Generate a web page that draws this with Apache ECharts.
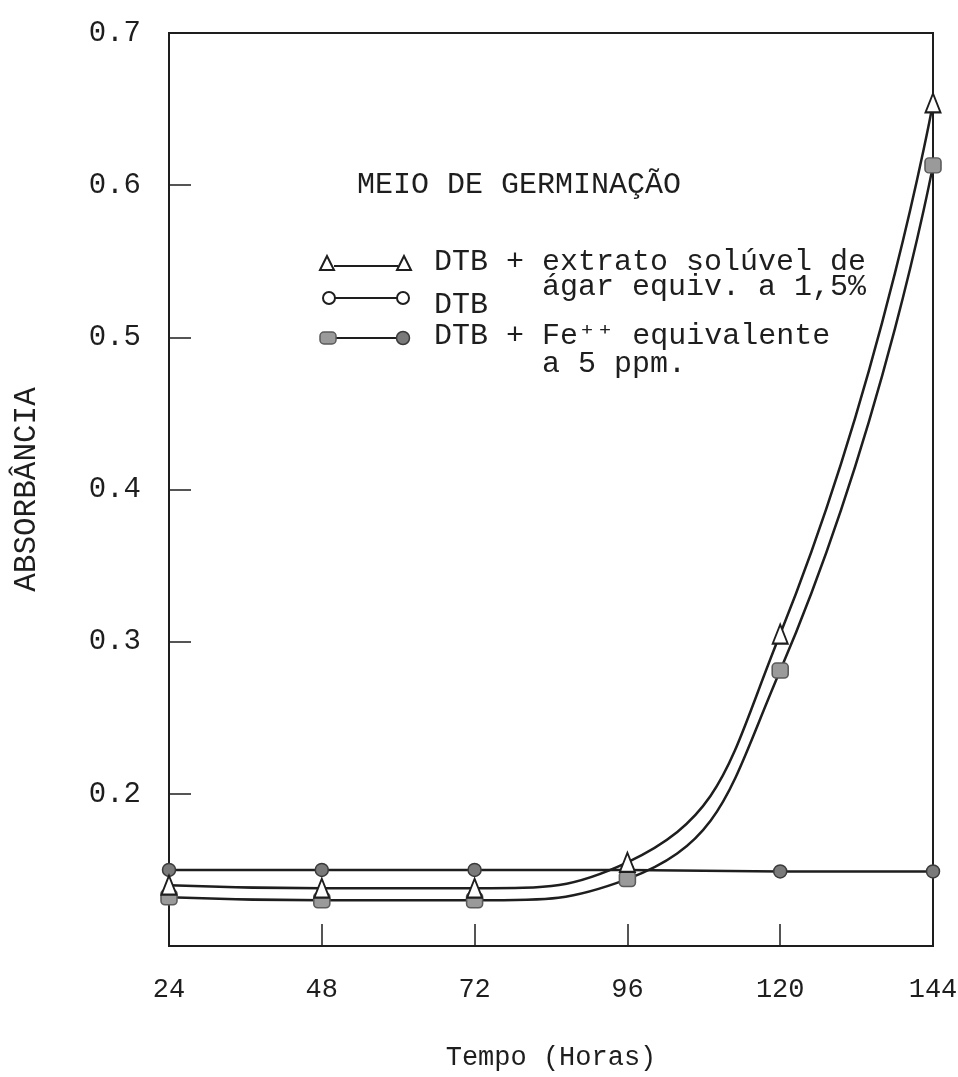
<!DOCTYPE html>
<html>
<head>
<meta charset="utf-8">
<script src="https://cdn.jsdelivr.net/npm/echarts@6/dist/echarts.min.js"></script>
<style>html,body{margin:0;padding:0;background:#fff}#c{width:958px;height:1077px}</style>
</head>
<body>
<div id="c"></div>
<script>
const hours = [24, 48, 72, 96, 120, 144];
const extratoVals = [0.140, 0.138, 0.138, 0.155, 0.305, 0.654];
const dtbVals = [0.150, 0.150, 0.150, 0.150, 0.149, 0.149];
const feVals = [0.132, 0.130, 0.130, 0.144, 0.281, 0.613];
const legendTitle = 'MEIO DE GERMINAÇÃO';
const legendLines = [
  'DTB + extrato solúvel de',
  '      ágar equiv. a 1,5%',
  'DTB',
  'DTB + Fe⁺⁺ equivalente',
  '      a 5 ppm.'
];
const xName = 'Tempo (Horas)';
const yName = 'ABSORBÂNCIA';

const FONT = '"Liberation Mono", "DejaVu Sans Mono", monospace';
const INK = '#1e1e1e';
const pair = vals => hours.map((h, i) => [h, vals[i]]);

const chart = echarts.init(document.getElementById('c'), null, {renderer: 'canvas'});
const txt = (x, y, s, size) => ({type: 'text', left: x, top: y, style: {text: s, font: `${size}px ${FONT}`, fill: INK}, z: 10});
chart.setOption({
  backgroundColor: '#fff',
  animation: false,
  grid: {left: 169, right: 25, top: 33, bottom: 131, show: true, borderColor: INK, borderWidth: 2,
         outerBoundsMode: 'none', containLabel: false},
  xAxis: {
    type: 'value', min: 24, max: 144, interval: 24,
    name: xName, nameLocation: 'middle', nameGap: 98,
    nameTextStyle: {fontFamily: FONT, fontSize: 27, color: INK},
    axisLine: {show: true, lineStyle: {color: INK, width: 2}},
    axisTick: {show: true, inside: true, length: 22, lineStyle: {color: INK, width: 1.5}},
    axisLabel: {fontFamily: FONT, fontSize: 27, color: INK, margin: 30},
    splitLine: {show: false}
  },
  yAxis: {
    type: 'value', min: 0.1, max: 0.7, interval: 0.1,
    name: yName, nameLocation: 'middle', nameGap: 127, nameRotate: 90,
    nameTextStyle: {fontFamily: FONT, fontSize: 31, color: INK},
    axisLine: {show: true, lineStyle: {color: INK, width: 2}},
    axisTick: {show: true, inside: true, length: 22, lineStyle: {color: INK, width: 1.5}},
    axisLabel: {fontFamily: FONT, fontSize: 29, color: INK, margin: 28,
      formatter: v => Math.abs(v - 0.1) < 1e-6 ? '' : v.toFixed(1)},
    splitLine: {show: false}
  },
  series: [
    {name: 'DTB', type: 'line', data: pair(dtbVals), z: 2,
     symbol: 'circle', symbolSize: 13,
     itemStyle: {color: '#7a7a7a', borderColor: '#3a3a3a', borderWidth: 1.5},
     lineStyle: {color: INK, width: 2.5}},
    {name: 'DTB + Fe++', type: 'line', data: pair(feVals), z: 3,
     smooth: 0.5,
     symbol: 'roundRect', symbolSize: [16, 15],
     itemStyle: {color: '#9a9a9a', borderColor: '#5a5a5a', borderWidth: 1.5},
     lineStyle: {color: INK, width: 2.5}},
    {name: 'DTB + extrato', type: 'line', data: pair(extratoVals), z: 4,
     smooth: 0.5,
     symbol: 'triangle', symbolSize: [15, 19],
     itemStyle: {color: '#fff', borderColor: INK, borderWidth: 2},
     lineStyle: {color: INK, width: 2.5}}
  ],
  graphic: [
    txt(357, 170, legendTitle, 30),
    txt(434, 247, legendLines[0], 30),
    txt(434, 272, legendLines[1], 30),
    txt(434, 290, legendLines[2], 30),
    txt(434, 321, legendLines[3], 30),
    txt(434, 349, legendLines[4], 30),
    {type: 'line', shape: {x1: 334, y1: 266, x2: 398, y2: 266}, style: {stroke: INK, lineWidth: 2}},
    {type: 'polygon', shape: {points: [[327, 256], [320, 270], [334, 270]]}, style: {fill: '#fff', stroke: INK, lineWidth: 2}},
    {type: 'polygon', shape: {points: [[404, 256], [397, 270], [411, 270]]}, style: {fill: '#fff', stroke: INK, lineWidth: 2}},
    {type: 'line', shape: {x1: 335, y1: 298, x2: 397, y2: 298}, style: {stroke: INK, lineWidth: 2}},
    {type: 'circle', shape: {cx: 329, cy: 298, r: 6}, style: {fill: '#fff', stroke: INK, lineWidth: 2}},
    {type: 'circle', shape: {cx: 403, cy: 298, r: 6}, style: {fill: '#fff', stroke: INK, lineWidth: 2}},
    {type: 'line', shape: {x1: 336, y1: 338, x2: 396, y2: 338}, style: {stroke: INK, lineWidth: 2}},
    {type: 'rect', shape: {x: 320, y: 332, width: 16, height: 12, r: 4}, style: {fill: '#9a9a9a', stroke: '#5a5a5a', lineWidth: 1.5}},
    {type: 'circle', shape: {cx: 403, cy: 338, r: 6.5}, style: {fill: '#7a7a7a', stroke: '#3a3a3a', lineWidth: 1.5}}
  ]
});
</script>
</body>
</html>
